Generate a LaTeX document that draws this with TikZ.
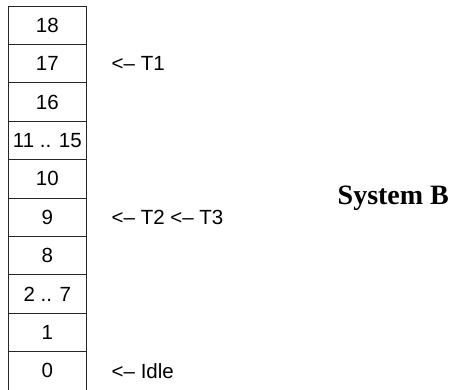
\documentclass[tikz,border=0pt]{standalone}
\usepackage{fontspec}
\setmainfont{Liberation Sans}
\newfontfamily\titlefont{Liberation Serif}
\usepackage{tikz}
\usetikzlibrary{positioning}

\tikzset{
    slot/.style={draw=black!85, line width=0.8pt, minimum width=77.3pt,
        minimum height=38.4pt, inner sep=0pt, outer sep=0pt,
        font=\fontsize{20.5}{24}\selectfont},
    tag/.style={inner sep=0pt, anchor=west, font=\fontsize{20.5}{24}\selectfont}
}

\begin{document}
\begin{tikzpicture}[x=1pt, y=1pt]
    \useasboundingbox (0,0) rectangle (452,-389);
    % priority levels, highest on top
    \foreach \lbl [count=\i from 0] in {18,17,16,11 .. 15,10,9,8,2 .. 7,1,0}
        \node[slot, anchor=north west] (s\i) at (8.7,{-6-38.4*\i}) {\lbl};
    \node[tag, right=25.5pt of s1] (t1) {<– T1};
    \node[tag, right=25.5pt of s5] (t23) {<– T2 <– T3};
    \node[tag, right=25.5pt of s9] (idle) {<– Idle};
    \node[anchor=base west, inner sep=0pt, font=\titlefont\bfseries\fontsize{28}{32}\selectfont]
        (sys) at (337.5,-204) {System B};
\end{tikzpicture}
\end{document}
